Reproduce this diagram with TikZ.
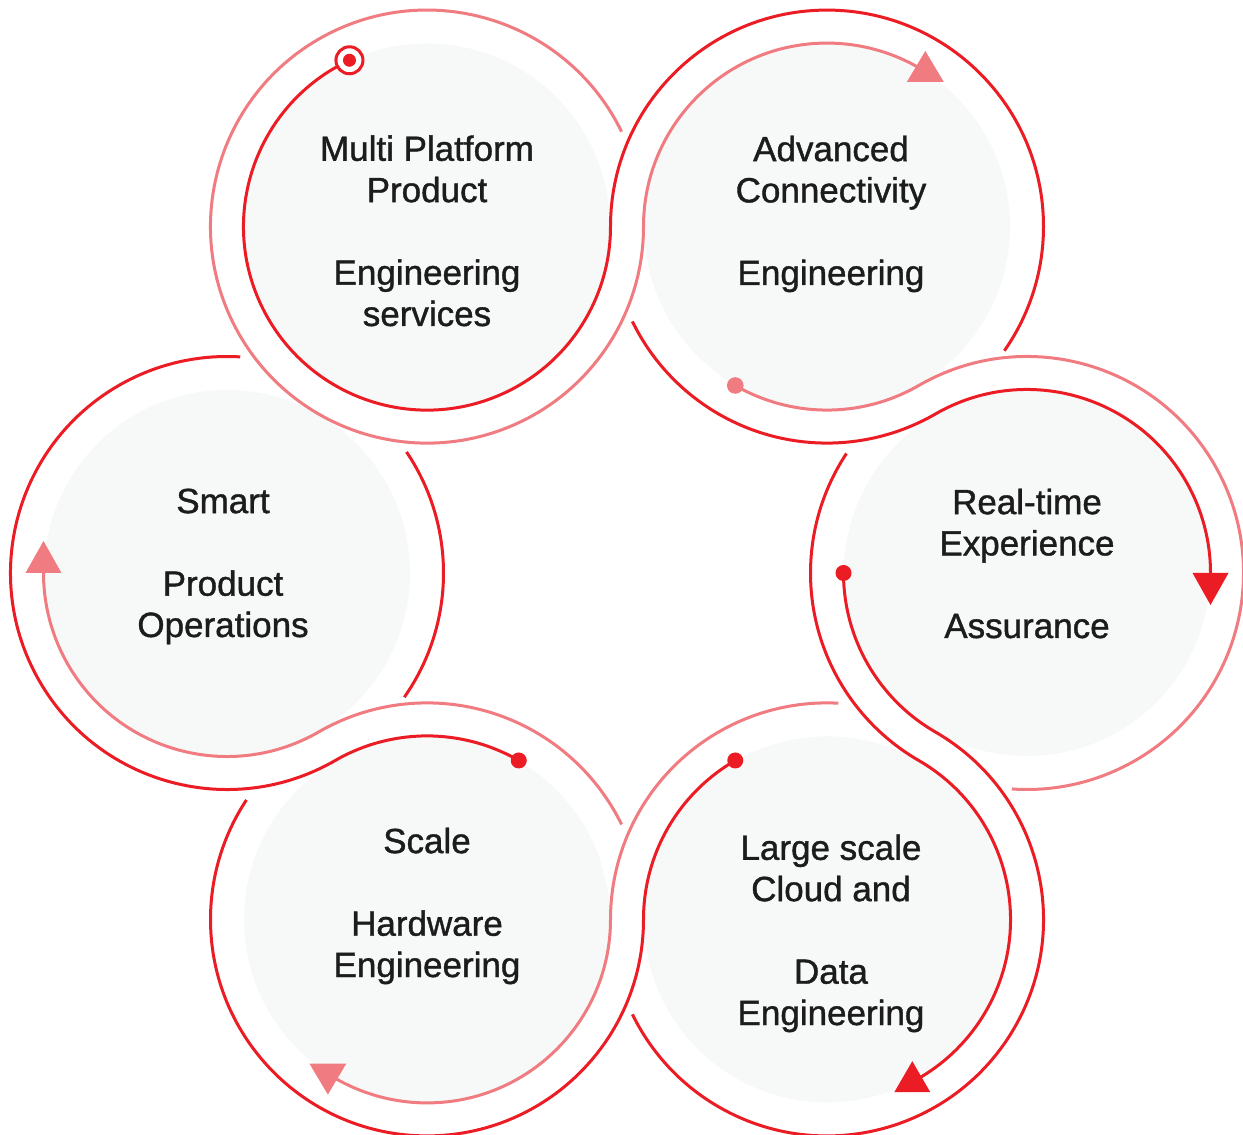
\documentclass[tikz,border=0pt]{standalone}
\usepackage{fontspec}
\newfontfamily\labelfont{Liberation Sans}[FakeBold=1.1]
\definecolor{ringred}{HTML}{EC1C24}
\definecolor{ringpink}{HTML}{F07B80}
\definecolor{bubblefill}{HTML}{F7F9F9}
\definecolor{inkdark}{HTML}{1C1C1C}
\begin{document}
\begin{tikzpicture}[x=1pt,y=1pt,
  bubble/.style={circle,fill=bubblefill,draw=none,minimum size=366pt,inner sep=0pt},
  caption/.style={anchor=base,align=center,text=inkdark,inner sep=0pt,
    font=\labelfont\fontsize{35}{41.3}\selectfont},
  redtrack/.style={draw=ringred,line width=3pt},
  pinktrack/.style={draw=ringpink,line width=3pt}]
\def\Ri{183.5pt}
\def\Ro{216.5pt}
\fill[white] (0,0) rectangle (1243,1135);
\useasboundingbox (0,0) rectangle (1243,1135);

% six bubbles on a hexagon of side 400
\node[bubble] (A) at (427,908.41) {};
\node[bubble] (B) at (827,908.41) {};
\node[bubble] (C) at (1027,562) {};
\node[bubble] (D) at (827,215.59) {};
\node[bubble] (E) at (427,215.59) {};
\node[bubble] (F) at (227,562) {};

% tracks: arcs switch between tangent circles (216.5 + 183.5 = 400)
\draw[redtrack] (A.center) ++(115:\Ri) arc[start angle=115,end angle=360,radius=\Ri]
  arc[start angle=180,end angle=-35,radius=\Ro];
\draw[pinktrack] (A.center) ++(26:\Ro) arc[start angle=26,end angle=360,radius=\Ro]
  arc[start angle=180,end angle=57,radius=\Ri];
\draw[redtrack] (B.center) ++(206:\Ro) arc[start angle=206,end angle=300,radius=\Ro]
  arc[start angle=120,end angle=0,radius=\Ri];
\draw[pinktrack] (B.center) ++(240:\Ri) arc[start angle=240,end angle=300,radius=\Ri]
  arc[start angle=120,end angle=-94,radius=\Ro];
\draw[redtrack] (C.center) ++(146.5:\Ro) arc[start angle=146.5,end angle=240,radius=\Ro]
  arc[start angle=60,end angle=-60,radius=\Ri];
\draw[redtrack] (C.center) ++(180:\Ri) arc[start angle=180,end angle=240,radius=\Ri]
  arc[start angle=60,end angle=-154,radius=\Ro];
\draw[pinktrack] (D.center) ++(87:\Ro) arc[start angle=87,end angle=180,radius=\Ro]
  arc[start angle=0,end angle=-121,radius=\Ri];
\draw[redtrack] (D.center) ++(120:\Ri) arc[start angle=120,end angle=180,radius=\Ri]
  arc[start angle=0,end angle=-213.5,radius=\Ro];
\draw[pinktrack] (E.center) ++(26:\Ro) arc[start angle=26,end angle=120,radius=\Ro]
  arc[start angle=300,end angle=180,radius=\Ri];
\draw[redtrack] (E.center) ++(60:\Ri) arc[start angle=60,end angle=120,radius=\Ri]
  arc[start angle=300,end angle=86.5,radius=\Ro];
\draw[redtrack] (F.center) ++(34:\Ro) arc[start angle=34,end angle=-35,radius=\Ro];

% start dots
\fill[ringpink] (B.center) ++(240:\Ri) circle[radius=8.3pt];
\fill[ringred] (C.center) ++(180:\Ri) circle[radius=8pt];
\fill[ringred] (D.center) ++(120:\Ri) circle[radius=8pt];
\fill[ringred] (E.center) ++(60:\Ri) circle[radius=8pt];
% start target
\coordinate (origin) at ([shift={(115:\Ri)}]A.center);
\draw[ringred,line width=3pt,fill=white] (origin) circle[radius=13.5pt];
\fill[ringred] (origin) circle[radius=6.5pt];

% arrow heads
\coordinate (tipB) at ([shift={(57.6:\Ri)}]B.center);
\coordinate (tipC) at ([shift={(0:\Ri)}]C.center);
\coordinate (tipD) at ([shift={(-62.3:\Ri)}]D.center);
\coordinate (tipE) at ([shift={(237.3:\Ri)}]E.center);
\coordinate (tipF) at ([shift={(180:\Ri)}]F.center);
\fill[ringpink] (tipB) ++(-18.5,-10.3) -- ++(37,0) -- ++(-18.5,31) -- cycle;
\fill[ringred] (tipC) ++(-18,0) -- ++(36,0) -- ++(-18,-32) -- cycle;
\fill[ringred] (tipD) ++(-18,-10.3) -- ++(36,0) -- ++(-18,31) -- cycle;
\fill[ringpink] (tipE) ++(-18.5,10.3) -- ++(37,0) -- ++(-18.5,-31) -- cycle;
\fill[ringpink] (tipF) ++(-18,0) -- ++(36,0) -- ++(-18,32) -- cycle;

% captions (anchored at the baseline of the last line)
\node[caption] (tA) at ([yshift=-99.4pt]A.center) {Multi Platform\\Product\\[41.3pt]Engineering\\services};
\node[caption] (tB) at ([shift={(4pt,-58.4pt)}]B.center) {Advanced\\Connectivity\\[41.3pt]Engineering};
\node[caption] (tC) at ([yshift=-65pt]C.center) {Real-time\\Experience\\[41.3pt]Assurance};
\node[caption] (tD) at ([shift={(4pt,-105.6pt)}]D.center) {Large scale\\Cloud and\\[41.3pt]Data\\Engineering};
\node[caption] (tE) at ([yshift=-57.6pt]E.center) {Scale\\[41.3pt]Hardware\\Engineering};
\node[caption] (tF) at ([shift={(-4pt,-64pt)}]F.center) {Smart\\[41.3pt]Product\\Operations};
\end{tikzpicture}
\end{document}
